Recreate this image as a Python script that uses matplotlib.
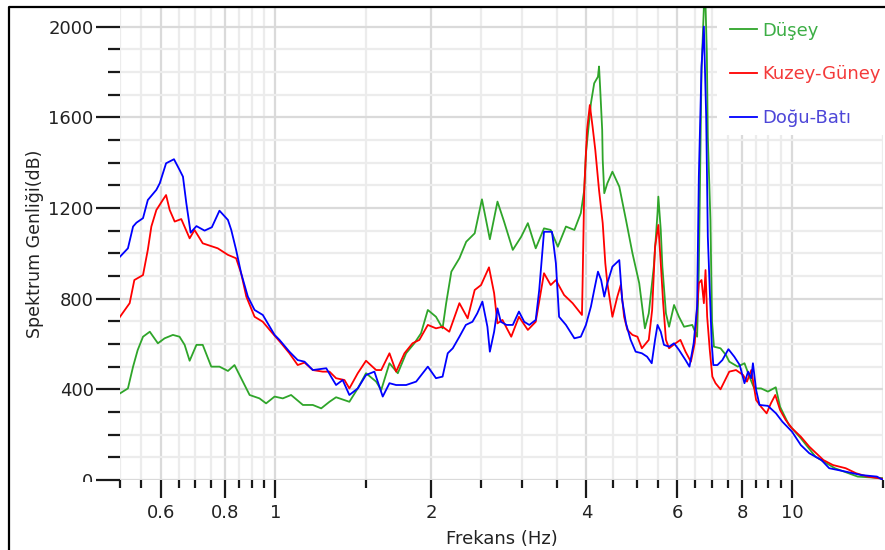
import matplotlib
matplotlib.use("Agg")
import matplotlib.pyplot as plt
from matplotlib.lines import Line2D
from matplotlib.patches import Rectangle
from matplotlib.ticker import NullFormatter

# Spectrum amplitudes per component (frequency in Hz, amplitude)
f_dusey = [0.500, 0.518, 0.530, 0.541, 0.554, 0.571, 0.592, 0.610, 0.633, 0.652,
           0.667, 0.682, 0.703, 0.723, 0.751, 0.779, 0.809, 0.833, 0.858, 0.891,
           0.931, 0.959, 0.996, 1.033, 1.072, 1.13, 1.181, 1.226, 1.272, 1.31,
           1.39, 1.443, 1.497, 1.566, 1.602, 1.662, 1.725, 1.79, 1.857, 1.913,
           1.972, 2.045, 2.106, 2.14, 2.19, 2.27, 2.34, 2.43, 2.51, 2.60,
           2.69, 2.77, 2.88, 2.99, 3.08, 3.19, 3.31, 3.41, 3.52, 3.65,
           3.79, 3.90, 3.96, 3.99, 4.08, 4.14, 4.21, 4.23, 4.25, 4.29,
           4.30, 4.33, 4.39, 4.49, 4.63, 4.77, 4.91, 5.06, 5.19, 5.28,
           5.40, 5.49, 5.51, 5.57, 5.61, 5.70, 5.78, 5.91, 6.04, 6.18,
           6.41, 6.55, 6.60, 6.68, 6.78, 6.84, 6.87, 6.95, 7.00, 7.06,
           7.27, 7.45, 7.56, 7.85, 8.09, 8.27, 8.45, 8.71, 8.98, 9.30,
           9.48, 9.86, 10.4, 11.1, 12.1, 13.4, 15.0]
a_dusey = [382, 404, 500, 573, 632, 654, 603, 625, 640, 632,
           596, 526, 596, 596, 500, 500, 481, 507, 449, 375,
           360, 338, 368, 360, 375, 331, 331, 316, 345, 365,
           345, 404, 471, 434, 397, 515, 471, 559, 603, 647,
           750, 720, 669, 780, 919, 978, 1051, 1088, 1238, 1062,
           1228, 1140, 1015, 1073, 1133, 1022, 1110, 1103, 1029, 1118,
           1103, 1177, 1279, 1441, 1662, 1750, 1779, 1824, 1735, 1544,
           1412, 1265, 1309, 1360, 1294, 1147, 1000, 868, 669, 735,
           941, 1177, 1250, 1103, 941, 735, 676, 772, 720, 676,
           684, 632, 926, 1809, 2200, 1884, 1515, 1147, 700, 588,
           581, 551, 522, 500, 515, 456, 404, 404, 390, 409,
           323, 243, 184, 103, 52, 15, 8]

f_kuzey = [0.500, 0.522, 0.533, 0.554, 0.566, 0.575, 0.588, 0.605, 0.614, 0.624,
           0.638, 0.657, 0.682, 0.697, 0.723, 0.773, 0.809, 0.839, 0.858, 0.878,
           0.911, 0.945, 0.981, 1.026, 1.064, 1.104, 1.138, 1.181, 1.234, 1.272,
           1.31, 1.36, 1.39, 1.443, 1.497, 1.566, 1.602, 1.662, 1.712, 1.777,
           1.842, 1.899, 1.972, 2.045, 2.106, 2.17, 2.27, 2.355, 2.43, 2.50,
           2.59, 2.65, 2.69, 2.75, 2.86, 2.96, 3.08, 3.19, 3.31, 3.41,
           3.49, 3.62, 3.76, 3.92, 3.93, 3.96, 4.01, 4.06, 4.11, 4.16,
           4.23, 4.30, 4.35, 4.39, 4.49, 4.59, 4.66, 4.73, 4.80, 4.91,
           5.02, 5.12, 5.28, 5.36, 5.43, 5.51, 5.57, 5.63, 5.70, 5.78,
           5.95, 6.08, 6.22, 6.37, 6.48, 6.60, 6.68, 6.75, 6.80, 6.85,
           6.93, 7.01, 7.11, 7.27, 7.56, 7.79, 8.04, 8.18, 8.34, 8.52,
           8.71, 8.93, 9.10, 9.28, 9.48, 9.72, 10.0, 10.4, 10.8, 11.5,
           12.0, 12.7, 13.3, 14.0, 15.0]
a_kuzey = [720, 780, 882, 904, 1015, 1118, 1191, 1235, 1257, 1191,
           1140, 1151, 1066, 1103, 1044, 1022, 993, 978, 912, 809,
           720, 698, 654, 603, 559, 507, 518, 485, 478, 478,
           449, 441, 404, 471, 526, 485, 485, 559, 478, 559,
           603, 618, 684, 669, 676, 654, 780, 713, 838, 860,
           938, 824, 691, 706, 632, 720, 662, 698, 912, 860,
           882, 816, 780, 728, 853, 1279, 1544, 1654, 1559, 1456,
           1279, 1133, 956, 868, 720, 809, 860, 720, 662, 640,
           632, 581, 618, 750, 1029, 1125, 956, 780, 618, 581,
           603, 618, 566, 522, 603, 868, 882, 780, 926, 720,
           574, 456, 427, 400, 478, 485, 463, 434, 485, 353,
           323, 294, 338, 375, 309, 265, 228, 191, 147, 88,
           66, 52, 30, 15, 5]

f_dogu = [0.500, 0.518, 0.530, 0.538, 0.554, 0.566, 0.588, 0.597, 0.614, 0.636,
          0.652, 0.662, 0.672, 0.685, 0.703, 0.729, 0.753, 0.779, 0.809, 0.821,
          0.839, 0.858, 0.884, 0.911, 0.945, 0.966, 0.996, 1.018, 1.064, 1.104,
          1.138, 1.181, 1.254, 1.281, 1.31, 1.349, 1.39, 1.443, 1.497, 1.554,
          1.613, 1.662, 1.712, 1.79, 1.872, 1.972, 2.045, 2.106, 2.155, 2.204,
          2.27, 2.336, 2.406, 2.458, 2.515, 2.572, 2.60, 2.65, 2.69, 2.73,
          2.80, 2.88, 2.96, 3.03, 3.10, 3.19, 3.24, 3.31, 3.43, 3.49,
          3.54, 3.65, 3.79, 3.90, 3.99, 4.08, 4.14, 4.21, 4.27, 4.33,
          4.39, 4.49, 4.63, 4.69, 4.77, 4.87, 4.98, 5.12, 5.24, 5.35,
          5.43, 5.49, 5.57, 5.65, 5.78, 5.91, 6.04, 6.22, 6.33, 6.45,
          6.55, 6.60, 6.68, 6.75, 6.82, 6.87, 6.99, 7.04, 7.17, 7.33,
          7.53, 7.73, 7.92, 8.09, 8.22, 8.34, 8.40, 8.52, 8.65, 8.98,
          9.31, 9.58, 10.0, 10.4, 10.8, 11.4, 11.8, 12.7, 13.6, 14.6,
          15.0]
a_dogu = [985, 1022, 1118, 1135, 1155, 1235, 1280, 1309, 1397, 1415,
          1368, 1338, 1221, 1091, 1120, 1100, 1115, 1188, 1147, 1103,
          1015, 912, 809, 750, 728, 691, 640, 618, 566, 529,
          522, 485, 493, 456, 419, 441, 375, 404, 463, 478,
          368, 427, 419, 419, 434, 500, 449, 456, 559, 581,
          632, 684, 698, 735, 787, 676, 566, 654, 757, 698,
          684, 684, 743, 698, 684, 706, 838, 1095, 1095, 956,
          720, 684, 625, 632, 684, 765, 838, 919, 882, 809,
          868, 941, 970, 794, 691, 618, 566, 559, 544, 515,
          618, 684, 654, 596, 588, 603, 574, 529, 500, 603,
          765, 1338, 1824, 2000, 1603, 1073, 603, 507, 507, 529,
          577, 544, 507, 427, 478, 449, 515, 397, 331, 327,
          294, 257, 213, 154, 118, 88, 52, 37, 22, 15,
          0]

series_names = ["Düşey", "Kuzey-Güney", "Doğu-Batı"]
line_colors = ["#2fa52a", "#ff0000", "#0000ff"]
text_colors = ["#3cae45", "#f43a3a", "#4d46d8"]

x_major = [0.6, 0.8, 1, 2, 4, 6, 8, 10]
x_major_labels = ["0.6", "0.8", "1", "2", "4", "6", "8", "10"]
x_minor = [0.5, 0.55, 0.65, 0.7, 0.75, 0.85, 0.9, 0.95, 1.5, 2.5, 3, 3.5,
           4.5, 5, 5.5, 6.5, 7, 7.5, 8.5, 9, 9.5, 15]
y_major = [0, 400, 800, 1200, 1600, 2000]

W, H = 885, 550
fig = plt.figure(figsize=(W / 100, H / 100), dpi=100)
ax = fig.add_axes([120 / W, 1 - 480 / H, (883 - 120) / W, (480 - 8) / H])

ax.plot(f_dusey, a_dusey, color=line_colors[0], lw=1.3, label=series_names[0])
ax.plot(f_kuzey, a_kuzey, color=line_colors[1], lw=1.3, label=series_names[1])
ax.plot(f_dogu, a_dogu, color=line_colors[2], lw=1.3, label=series_names[2])

ax.set_xscale("log")
ax.set_xlim(0.5, 15)
ax.set_ylim(0, 2082)

ax.set_xticks(x_major, labels=x_major_labels)
ax.set_xticks(x_minor, minor=True)
ax.xaxis.set_minor_formatter(NullFormatter())
ax.set_yticks(y_major, labels=[str(v) for v in y_major])
ax.set_yticks(range(100, 2100, 100), minor=True)

for s in ax.spines.values():
    s.set_visible(False)

ax.set_axisbelow(True)
ax.grid(which="minor", color="#ececec", lw=1.6)
ax.grid(which="major", color="#dadada", lw=1.6)

ax.tick_params(axis="both", which="both", colors="#1a1a1a", width=1.6,
               direction="out", labelsize=13, labelcolor="#222222")
ax.tick_params(axis="y", which="major", length=17, pad=2)
ax.tick_params(axis="y", which="minor", length=9)
ax.tick_params(axis="x", which="major", length=13, pad=4)
ax.tick_params(axis="x", which="minor", length=6)

ax.set_xlabel("Frekans (Hz)", fontsize=13, color="#222222", labelpad=6)
ax.set_ylabel("Spektrum Genliği(dB)", fontsize=12.5, color="#222222", labelpad=3)

# the zero label is cut off below the baseline
fig.add_artist(Rectangle((80 / W, 1 - 497 / H), 21 / W, 15 / H,
                         transform=fig.transFigure, facecolor="white",
                         edgecolor="none", zorder=10))

# white patch behind the legend
ax.add_patch(Rectangle((717 / W, 1 - 135 / H), (W - 717) / W, (135 - 8) / H,
                       transform=fig.transFigure, facecolor="white",
                       edgecolor="none", zorder=1.5))

leg = ax.legend(loc="upper left", bbox_to_anchor=(717 / W, 1 - 9 / H),
                bbox_transform=fig.transFigure, frameon=False, fontsize=13,
                handlelength=1.5, handletextpad=0.3, labelspacing=1.42,
                borderpad=0.2)
for txt, c in zip(leg.get_texts(), text_colors):
    txt.set_color(c)

# outer frame
fig.add_artist(Line2D([9 / W, 9 / W, 1], [0, 1 - 7 / H, 1 - 7 / H],
                      transform=fig.transFigure, color="black", lw=1.6))

fig.savefig("out.png", dpi=100)
